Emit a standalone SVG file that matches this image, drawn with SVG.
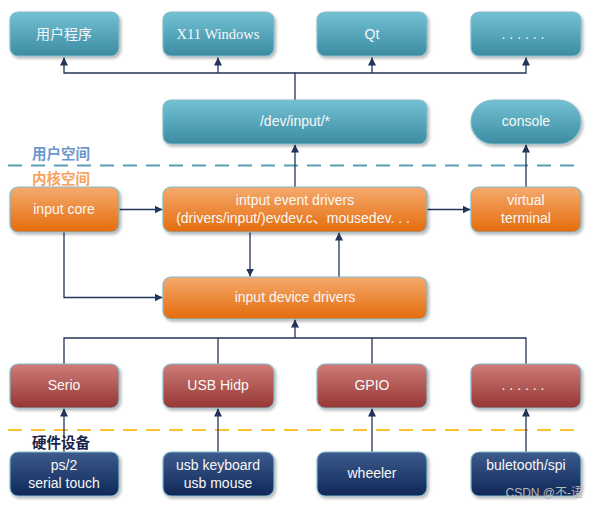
<svg xmlns="http://www.w3.org/2000/svg" width="598" height="507" viewBox="0 0 598 507">
<style>
.box{stroke:#84bccb;stroke-width:1.2;filter:url(#sh)}
.t{font-family:"Liberation Sans","Noto Sans CJK SC",sans-serif;font-size:14px;fill:#f8f8f8;text-anchor:middle}
.ts{font-family:"Liberation Serif","Noto Sans CJK SC",serif;font-size:14.5px;fill:#f8f8f8;text-anchor:middle}
.cjk{font-family:"Noto Sans CJK SC",sans-serif;font-size:14px;fill:#f8f8f8;text-anchor:middle}
.lab{font-family:"Noto Sans CJK SC",sans-serif;font-size:14.5px;font-weight:bold}
.c{fill:none;stroke:#22355a;stroke-width:1.3}
.dash{fill:none;stroke-width:2.2;stroke-dasharray:14 9}
</style>
<defs>
<linearGradient id="gT" x1="0" y1="0" x2="0" y2="1"><stop offset="0" stop-color="#74c1d3"/><stop offset="1" stop-color="#3b8ca3"/></linearGradient>
<linearGradient id="gO" x1="0" y1="0" x2="0" y2="1"><stop offset="0" stop-color="#f5aa6e"/><stop offset="1" stop-color="#e46c0c"/></linearGradient>
<linearGradient id="gR" x1="0" y1="0" x2="0" y2="1"><stop offset="0" stop-color="#cf7c77"/><stop offset="1" stop-color="#953634"/></linearGradient>
<linearGradient id="gN" x1="0" y1="0" x2="0" y2="1"><stop offset="0" stop-color="#3d5b8d"/><stop offset="1" stop-color="#0f2858"/></linearGradient>
<filter id="sh" x="-10%" y="-10%" width="125%" height="140%"><feDropShadow dx="1.5" dy="2" stdDeviation="1.5" flood-color="#000" flood-opacity="0.3"/></filter>
<marker id="ar" viewBox="0 0 10 10" refX="10" refY="5" markerWidth="8" markerHeight="8" markerUnits="userSpaceOnUse" orient="auto"><path d="M0,0 L10,5 L0,10 Z" fill="#22355a"/></marker>
</defs>

<!-- separators and labels -->
<line class="dash" x1="8" y1="165.5" x2="582" y2="165.5" stroke="#5b9fb6"/>
<line class="dash" x1="8" y1="430" x2="582" y2="430" stroke="#fcc12e"/>
<text class="lab" x="32" y="159" fill="#6c97cc">用户空间</text>
<text class="lab" x="32" y="184" fill="#f7a25e">内核空间</text>
<text class="lab" x="32" y="448" fill="#17244a">硬件设备</text>

<g id="connectors">
<path class="c" d="M295,100 V73 H64 V57.5" marker-end="url(#ar)"/>
<path class="c" d="M218,73 V57.5" marker-end="url(#ar)"/>
<path class="c" d="M295,73 H526 V57.5" marker-end="url(#ar)"/>
<path class="c" d="M372,73 V57.5" marker-end="url(#ar)"/>
<path class="c" d="M295,187 V144.5" marker-end="url(#ar)"/>
<path class="c" d="M526,187 V144.5" marker-end="url(#ar)"/>
<path class="c" d="M119,209.5 H162.5" marker-end="url(#ar)"/>
<path class="c" d="M427,209.5 H470.5" marker-end="url(#ar)"/>
<path class="c" d="M250,232 V276.5" marker-end="url(#ar)"/>
<path class="c" d="M339,277 V232.5" marker-end="url(#ar)"/>
<path class="c" d="M64,232 V297.5 H162.5" marker-end="url(#ar)"/>
<path class="c" d="M64,364 V338 H526 V364"/>
<path class="c" d="M218,338 V364"/>
<path class="c" d="M372,338 V364"/>
<path class="c" d="M295,338 V319.5" marker-end="url(#ar)"/>
<path class="c" d="M64,452 V408.5" marker-end="url(#ar)"/>
<path class="c" d="M218,452 V408.5" marker-end="url(#ar)"/>
<path class="c" d="M372,452 V408.5" marker-end="url(#ar)"/>
<path class="c" d="M526,452 V408.5" marker-end="url(#ar)"/>
</g>

<g id="app"><rect class="box" x="10" y="12" width="109" height="44" rx="8" fill="url(#gT)"/><text class="cjk" x="64" y="39">用户程序</text></g>
<g id="x11"><rect class="box" x="163" y="12" width="111" height="44" rx="8" fill="url(#gT)"/><text class="ts" x="218" y="39">X11 Windows</text></g>
<g id="qt"><rect class="box" x="317" y="12" width="110" height="44" rx="8" fill="url(#gT)"/><text class="t" x="372" y="39">Qt</text></g>
<g id="more-app"><rect class="box" x="471" y="12" width="110" height="44" rx="8" fill="url(#gT)"/><text class="t" x="523" y="39">. . . . . .</text></g>

<g id="devinput"><rect class="box" x="163" y="100" width="264" height="44" rx="8" fill="url(#gT)"/><text class="t" x="295" y="126">/dev/input/*</text></g>
<g id="console"><rect class="box" x="471" y="100" width="110" height="44" rx="22" fill="url(#gT)"/><text class="t" x="526" y="126">console</text></g>

<g id="inputcore"><rect class="box" x="10" y="187" width="109" height="45" rx="8" fill="url(#gO)"/><text class="t" x="64" y="214">input core</text></g>
<g id="eventdrivers"><rect class="box" x="163" y="187" width="264" height="45" rx="8" fill="url(#gO)"/><text class="t" x="295" y="205">intput event drivers</text><text class="t" x="293" y="223">(drivers/input/)evdev.c、mousedev. . .</text></g>
<g id="vt"><rect class="box" x="471" y="187" width="110" height="45" rx="8" fill="url(#gO)"/><text class="t" x="526" y="205">virtual</text><text class="t" x="526" y="223">terminal</text></g>

<g id="devdrivers"><rect class="box" x="163" y="277" width="264" height="42" rx="8" fill="url(#gO)"/><text class="t" x="295" y="302">input device  drivers</text></g>

<g id="serio"><rect class="box" x="10" y="364" width="109" height="44" rx="8" fill="url(#gR)"/><text class="t" x="64" y="390">Serio</text></g>
<g id="usbhid"><rect class="box" x="163" y="364" width="111" height="44" rx="8" fill="url(#gR)"/><text class="t" x="218" y="390">USB Hidp</text></g>
<g id="gpio"><rect class="box" x="317" y="364" width="110" height="44" rx="8" fill="url(#gR)"/><text class="t" x="372" y="390">GPIO</text></g>
<g id="more-bus"><rect class="box" x="471" y="364" width="110" height="44" rx="8" fill="url(#gR)"/><text class="t" x="523" y="390">. . . . . .</text></g>

<g id="ps2"><rect class="box" x="10" y="452" width="109" height="44" rx="8" fill="url(#gN)"/><text class="t" x="64" y="470">ps/2</text><text class="t" x="64" y="488">serial touch</text></g>
<g id="usbdev"><rect class="box" x="163" y="452" width="111" height="44" rx="8" fill="url(#gN)"/><text class="t" x="218" y="470">usb keyboard</text><text class="t" x="218" y="488">usb mouse</text></g>
<g id="wheeler"><rect class="box" x="317" y="452" width="110" height="44" rx="8" fill="url(#gN)"/><text class="t" x="372" y="478">wheeler</text></g>
<g id="bt"><rect class="box" x="471" y="452" width="110" height="44" rx="8" fill="url(#gN)"/><text class="t" x="526" y="470">buletooth/spi</text></g>

<text x="583" y="497" font-family="'Liberation Sans','Noto Sans CJK SC',sans-serif" font-size="12" fill="#b9b9b9" text-anchor="end">CSDN @不-语</text>
</svg>
